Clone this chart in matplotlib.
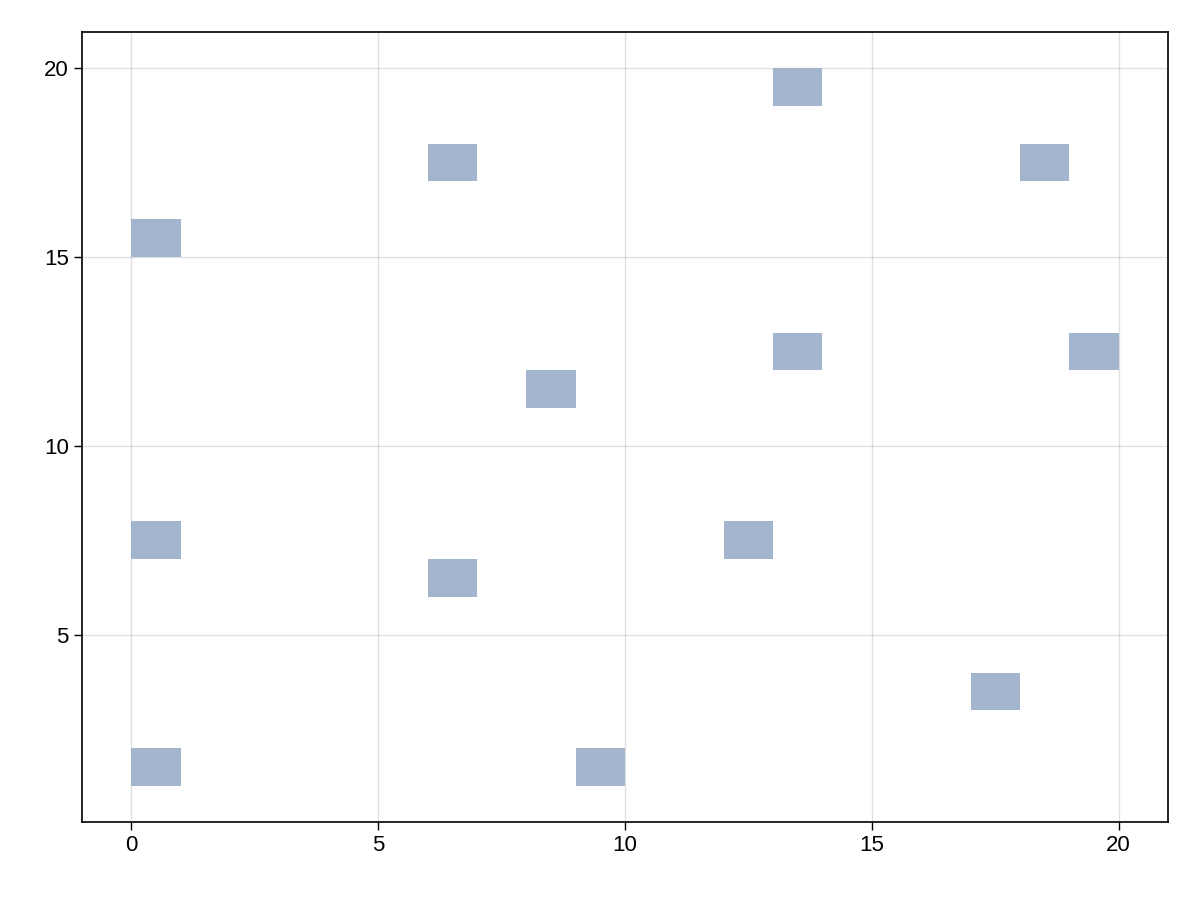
import matplotlib
matplotlib.use("Agg")
import matplotlib.pyplot as plt

# lower-left corners of the unit cells
cell_x = [0, 6, 13, 18, 13, 19, 8, 0, 12, 6, 17, 0, 9]
cell_y = [15, 17, 19, 17, 12, 12, 11, 7, 7, 6, 3, 1, 1]

plt.rcParams['font.family'] = ['Liberation Sans', 'DejaVu Sans']

fig = plt.figure(figsize=(12, 9), dpi=100)
ax = fig.add_axes([82 / 1200, 78 / 900, 1086 / 1200, 790 / 900])

ax.bar(cell_x, 1, width=1, bottom=cell_y, align='edge',
       color='#a2b5cc', linewidth=0, zorder=2)

ax.set_xlim(-1, 21)
ax.set_ylim(0.05, 20.95)
ax.set_xticks([0, 5, 10, 15, 20])
ax.set_yticks([5, 10, 15, 20])
ax.grid(True, color='#000000', alpha=0.12, linewidth=1, zorder=0)
ax.set_axisbelow(True)
ax.tick_params(labelsize=16, length=6, width=1)
for s in ax.spines.values():
    s.set_linewidth(1.2)

fig.savefig("out.png")
